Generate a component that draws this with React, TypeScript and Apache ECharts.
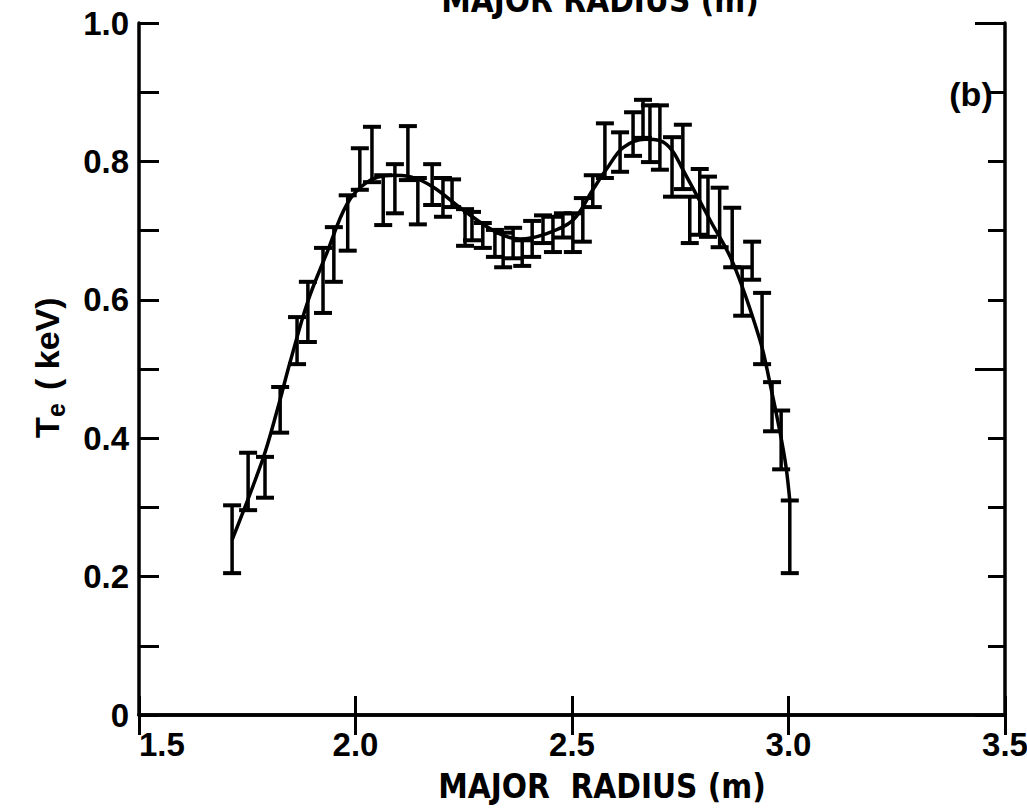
import React, { useEffect, useRef } from "react";
import * as echarts from "echarts";

// Error-bar measurements: major radius (m), lower and upper Te (keV)
const radius = [
  1.715, 1.752, 1.791, 1.826, 1.865, 1.89, 1.925, 1.95, 1.982, 2.01,
  2.038, 2.064, 2.091, 2.121, 2.144, 2.177, 2.202, 2.223, 2.253, 2.269,
  2.294, 2.322, 2.341, 2.364, 2.385, 2.408, 2.433, 2.456, 2.479, 2.502,
  2.525, 2.548, 2.576, 2.611, 2.641, 2.664, 2.68, 2.703, 2.731, 2.756,
  2.772, 2.795, 2.814, 2.841, 2.87, 2.893, 2.916, 2.939, 2.962, 2.983, 3.003,
];
const teLow = [
  0.205, 0.296, 0.314, 0.408, 0.507, 0.539, 0.581, 0.626, 0.671, 0.759,
  0.77, 0.708, 0.725, 0.773, 0.709, 0.737, 0.72, 0.734, 0.678, 0.686,
  0.675, 0.662, 0.647, 0.66, 0.649, 0.662, 0.682, 0.669, 0.69, 0.669,
  0.684, 0.734, 0.776, 0.785, 0.808, 0.834, 0.799, 0.788, 0.749, 0.76,
  0.682, 0.694, 0.691, 0.676, 0.647, 0.577, 0.629, 0.507, 0.41, 0.355, 0.205,
];
const teHigh = [
  0.303, 0.379, 0.373, 0.474, 0.575, 0.626, 0.675, 0.705, 0.751, 0.819,
  0.85, 0.78, 0.796, 0.851, 0.776, 0.796, 0.776, 0.774, 0.731, 0.727,
  0.711, 0.701, 0.697, 0.704, 0.686, 0.714, 0.722, 0.72, 0.725, 0.725,
  0.747, 0.78, 0.855, 0.842, 0.871, 0.889, 0.881, 0.881, 0.835, 0.853,
  0.749, 0.789, 0.778, 0.762, 0.733, 0.647, 0.684, 0.61, 0.481, 0.44, 0.31,
];

// Fitted profile curve
const fitRadius = [
  1.715, 1.786, 1.819, 1.849, 1.89, 1.934, 1.98, 2.027, 2.08, 2.126,
  2.179, 2.248, 2.327, 2.38, 2.438, 2.502, 2.548, 2.581, 2.618, 2.669,
  2.703, 2.731, 2.756, 2.819, 2.872, 2.934, 2.957, 2.98, 2.994, 3.003,
];
const fitTe = [
  0.253, 0.37, 0.44, 0.51, 0.598, 0.668, 0.738, 0.77, 0.78, 0.778,
  0.763, 0.73, 0.697, 0.688, 0.695, 0.715, 0.759, 0.79, 0.82, 0.832,
  0.83, 0.816, 0.788, 0.715, 0.653, 0.542, 0.48, 0.41, 0.36, 0.31,
];

const xMin = 1.5;
const xMax = 3.5;
const xStep = 0.5;
const yMin = 0;
const yMax = 1.0;
const yStep = 0.1;

const xTitle = "MAJOR  RADIUS (m)";
const topCutTitle = "MAJOR RADIUS (m)";
const panelLabel = "(b)";

const LABEL_FONT = "'Liberation Sans', Arial, Helvetica, sans-serif";
const NARROW_FONT = "'Liberation Sans Narrow', 'DejaVu Sans Condensed', 'Liberation Sans', sans-serif";

export default function App() {
  const ref = useRef<HTMLDivElement>(null);

  useEffect(() => {
    if (!ref.current) return;
    const chart = echarts.init(ref.current, undefined, { renderer: "svg" });

    const mkAxisLine = () => ({ show: true, lineStyle: { color: "#000", width: 3.5 } });
    const tickStyle = () => ({ color: "#000", width: 3 });

    const option: any = {
      animation: false,
      backgroundColor: "#fff",
      grid: {
        left: 139,
        right: 22,
        top: 23,
        bottom: 93,
        containLabel: false,
        outerBoundsMode: "none",
      },
      xAxis: [
        {
          type: "value",
          min: xMin,
          max: xMax,
          interval: xStep,
          position: "bottom",
          axisLine: mkAxisLine(),
          axisTick: { show: true, inside: true, length: 19, lineStyle: tickStyle() },
          splitLine: { show: false },
          axisLabel: {
            show: true,
            color: "#000",
            fontFamily: LABEL_FONT,
            fontWeight: "bold",
            fontSize: 33,
            margin: 13,
            alignMinLabel: "left",
            formatter: (v: number) => v.toFixed(1),
          },
        },
        {
          type: "value",
          min: xMin,
          max: xMax,
          interval: xStep,
          position: "top",
          axisLine: mkAxisLine(),
          axisTick: { show: true, inside: true, length: 20, lineStyle: tickStyle() },
          splitLine: { show: false },
          axisLabel: { show: false },
        },
      ],
      yAxis: [
        {
          type: "value",
          min: yMin,
          max: yMax,
          interval: yStep,
          position: "left",
          axisLine: mkAxisLine(),
          axisTick: { show: true, inside: true, length: 20, lineStyle: tickStyle() },
          splitLine: { show: false },
          axisLabel: {
            show: true,
            color: "#000",
            fontFamily: LABEL_FONT,
            fontWeight: "bold",
            fontSize: 33,
            margin: 10,
            formatter: (v: number) => {
              const k = Math.round(v * 10);
              if (k % 2 !== 0) return "";
              if (k === 0) return "0";
              return (k / 10).toFixed(1);
            },
          },
        },
        {
          type: "value",
          min: yMin,
          max: yMax,
          interval: yStep,
          position: "right",
          offset: 0,
          axisLine: mkAxisLine(),
          axisTick: { show: true, inside: true, length: 17, lineStyle: tickStyle() },
          splitLine: { show: false },
          axisLabel: { show: false },
        },
        {
          type: "value",
          min: yMin,
          max: yMax,
          interval: 0.5,
          position: "right",
          offset: 0,
          axisLine: { show: false },
          axisTick: { show: true, inside: true, length: 30, lineStyle: tickStyle() },
          splitLine: { show: false },
          axisLabel: { show: false },
        },
      ],
      series: [
        {
          type: "custom",
          xAxisIndex: 0,
          yAxisIndex: 0,
          data: radius.map((r, i) => [r, teLow[i], teHigh[i]]),
          encode: { x: 0, y: [1, 2] },
          renderItem: (_params: any, api: any) => {
            const x = api.value(0);
            const lo = api.coord([x, api.value(1)]);
            const hi = api.coord([x, api.value(2)]);
            const hw = 9;
            return {
              type: "group",
              children: [
                {
                  type: "line",
                  shape: { x1: lo[0], y1: lo[1], x2: hi[0], y2: hi[1] },
                  style: { stroke: "#000", lineWidth: 3.5 },
                },
                {
                  type: "line",
                  shape: { x1: hi[0] - hw, y1: hi[1], x2: hi[0] + hw, y2: hi[1] },
                  style: { stroke: "#000", lineWidth: 4 },
                },
                {
                  type: "line",
                  shape: { x1: lo[0] - hw, y1: lo[1], x2: lo[0] + hw, y2: lo[1] },
                  style: { stroke: "#000", lineWidth: 4 },
                },
              ],
            };
          },
          z: 3,
        },
        {
          type: "line",
          xAxisIndex: 0,
          yAxisIndex: 0,
          data: fitRadius.map((r, i) => [r, fitTe[i]]),
          smooth: 0.35,
          showSymbol: false,
          symbol: "none",
          lineStyle: { color: "#000", width: 3.5 },
          z: 4,
        },
      ],
      graphic: [
        {
          type: "text",
          x: 602,
          y: 786,
          style: {
            text: xTitle,
            fill: "#000",
            font: `bold 33px ${NARROW_FONT}`,
            textAlign: "center",
            textVerticalAlign: "middle",
          },
        },
        {
          type: "text",
          x: 600,
          y: 0,
          style: {
            text: topCutTitle,
            fill: "#000",
            font: `bold 33px ${NARROW_FONT}`,
            textAlign: "center",
            textVerticalAlign: "middle",
          },
        },
        {
          type: "text",
          x: 971,
          y: 94,
          style: {
            text: panelLabel,
            fill: "#000",
            font: `bold 34px ${LABEL_FONT}`,
            textAlign: "center",
            textVerticalAlign: "middle",
          },
        },
        {
          type: "group",
          x: 47,
          y: 350,
          rotation: Math.PI / 2,
          children: [
            {
              type: "text",
              x: -88,
              y: 0,
              style: {
                text: "T",
                fill: "#000",
                font: `bold 34px ${LABEL_FONT}`,
                textAlign: "left",
                textVerticalAlign: "middle",
              },
            },
            {
              type: "text",
              x: -67,
              y: 9,
              style: {
                text: "e",
                fill: "#000",
                font: `bold 25px ${LABEL_FONT}`,
                textAlign: "left",
                textVerticalAlign: "middle",
              },
            },
            {
              type: "text",
              x: -40,
              y: 0,
              style: {
                text: "( keV)",
                fill: "#000",
                font: `bold 34px ${LABEL_FONT}`,
                textAlign: "left",
                textVerticalAlign: "middle",
              },
            },
          ],
        },
      ],
    };

    chart.setOption(option);
    return () => chart.dispose();
  }, []);

  return (
    <div
      ref={ref}
      style={{ position: "fixed", left: 0, top: 0, width: 1027, height: 808, background: "#fff" }}
    />
  );
}
